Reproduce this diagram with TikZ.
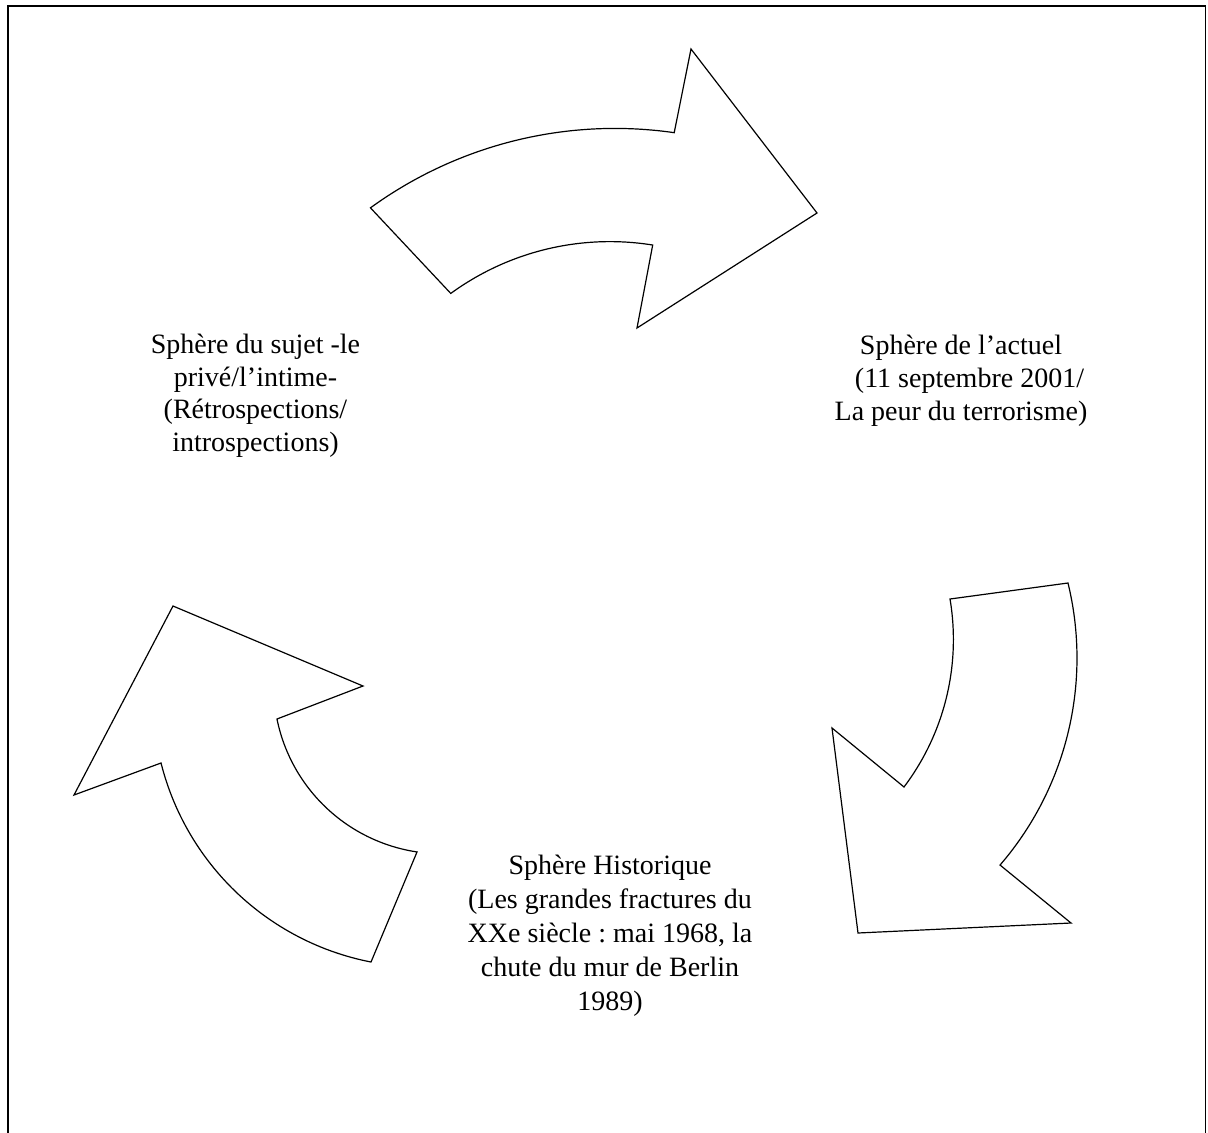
\documentclass[tikz,border=0pt]{standalone}
\usepackage{fontspec}
\setmainfont{Liberation Serif}
\frenchspacing
\begin{document}
\begin{tikzpicture}[x=1pt,y=-1pt,
  arrowshape/.style={draw=black, line width=1.2pt, line join=miter, fill=white},
  frameline/.style={draw=black, line width=1.8pt, line join=miter},
  blocktext/.style={align=center, inner sep=0pt, anchor=base,
    font=\fontsize{28}{32.8}\selectfont},
  blocktextwide/.style={blocktext, font=\fontsize{28}{34}\selectfont}]
\clip (0,0) rectangle (1208,1133);
\fill[white] (0,0) rectangle (1208,1133);

% open frame, running off the lower edge
\draw[frameline] (8,1145) -- (8,6) -- (1205.5,6) -- (1205.5,1145);

% upper curved arrow, pointing right
\draw[arrowshape] (691,49)
  -- plot[domain=-81.8:-126.0, samples=60] ({614.9+415.9*cos(\x)},{544.3+415.9*sin(\x)})
  -- plot[domain=-126.07:-80.89, samples=60] ({609.9+270.3*cos(\x)},{511.9+270.3*sin(\x)})
  -- (637,328) -- (817,213) -- cycle;

% right curved arrow, pointing down
\draw[arrowshape] (1068,583)
  -- plot[domain=-13.5:40.78, samples=60] ({760+317*cos(\x)},{658+317*sin(\x)})
  -- (1071,923) -- (858,933) -- (832,728)
  -- plot[domain=37.03:-9.52, samples=60] ({708.5+244.9*cos(\x)},{639.5+244.9*sin(\x)})
  -- cycle;

% left curved arrow, pointing up
\draw[arrowshape] (173,606) -- (363,686)
  -- plot[domain=168.52:98.5, samples=60] ({441.9+168.3*cos(\x)},{685.5+168.3*sin(\x)})
  -- plot[domain=101.03:165.9, samples=60] ({422.6+269.7*cos(\x)},{697.3+269.7*sin(\x)})
  -- (74,795) -- cycle;

% the three spheres (each node sits on the baseline of its last line)
\node[blocktext] (sujet) at (255.5,451.7)
  {Sphère du sujet -le\\privé/l’intime-\\(Rétrospections/\\introspections)};
\node[blocktext] (actuel) at (961,420.5)
  {Sphère de l’actuel\\\hspace*{17pt}(11 septembre 2001/\\La peur du terrorisme)};
\node[blocktextwide] (historique) at (610,1010)
  {Sphère Historique\\(Les grandes fractures du\\XXe siècle : mai 1968, la\\chute du mur de Berlin\\1989)};
\end{tikzpicture}
\end{document}
